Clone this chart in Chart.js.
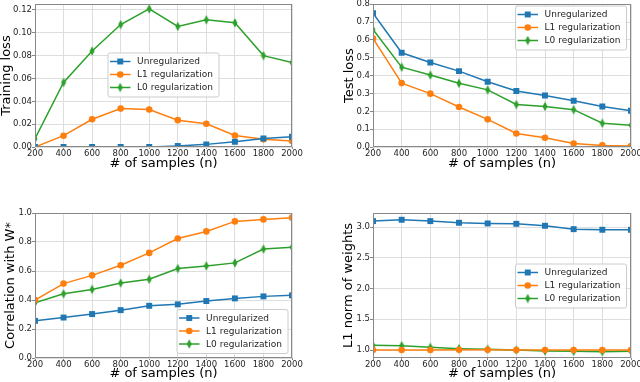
<!DOCTYPE html>
<html>
<head>
<meta charset="utf-8">
<script src="https://cdn.jsdelivr.net/npm/chart.js@4/dist/chart.umd.min.js"></script>
<style>
    html, body { margin: 0; padding: 0; background: #fff; }
    #wrap { position: relative; width: 640px; height: 382px; }
    .panel { position: absolute; width: 320px; height: 191px; }
</style>
</head>
<body>
<div id="wrap">
    <div class="panel" style="left:0;top:0"><canvas id="trainChart" width="320" height="191"></canvas></div>
    <div class="panel" style="left:320px;top:0"><canvas id="testChart" width="320" height="191"></canvas></div>
    <div class="panel" style="left:0;top:191px"><canvas id="corrChart" width="320" height="191"></canvas></div>
    <div class="panel" style="left:320px;top:191px"><canvas id="normChart" width="320" height="191"></canvas></div>
</div>
<script>
const sampleSizes = [200, 400, 600, 800, 1000, 1200, 1400, 1600, 1800, 2000];
const seriesNames = ['Unregularized', 'L1 regularization', 'L0 regularization'];

const trainUnreg = [0, 0, 0, 0, 0, 0.0009, 0.0023, 0.0046, 0.0075, 0.009];
const trainL1 = [0, 0.0099, 0.0243, 0.0336, 0.0328, 0.0235, 0.0203, 0.0101, 0.0067, 0.0052];
const trainL0 = [0.0072, 0.0565, 0.084, 0.1072, 0.1209, 0.1055, 0.1113, 0.1087, 0.080, 0.0739];

const testUnreg = [0.750, 0.528, 0.473, 0.425, 0.366, 0.314, 0.288, 0.259, 0.227, 0.203];
const testL1 = [0.608, 0.358, 0.299, 0.224, 0.155, 0.076, 0.052, 0.020, 0.009, 0.006];
const testL0 = [0.658, 0.447, 0.403, 0.357, 0.320, 0.238, 0.227, 0.209, 0.133, 0.122];

const corrUnreg = [0.256, 0.279, 0.303, 0.330, 0.360, 0.370, 0.393, 0.411, 0.425, 0.432];
const corrL1 = [0.400, 0.513, 0.570, 0.640, 0.725, 0.824, 0.873, 0.942, 0.956, 0.968];
const corrL0 = [0.381, 0.443, 0.473, 0.517, 0.543, 0.617, 0.635, 0.656, 0.751, 0.764];

const normUnreg = [3.098, 3.120, 3.098, 3.071, 3.060, 3.054, 3.022, 2.967, 2.957, 2.957];
const normL1 = [1.0, 1.0, 1.0, 1.005, 1.005, 1.0, 1.0, 1.0, 1.0, 1.0];
const normL0 = [1.076, 1.071, 1.043, 1.022, 1.011, 1.0, 0.984, 0.978, 0.973, 0.978];

const FONT = 'DejaVu Sans';
const colors = ['#1f77b4', '#ff7f0e', '#2ca02c'];

function thinDiamond(color) {
    const c = document.createElement('canvas');
    c.width = 6; c.height = 10;
    const g = c.getContext('2d');
    g.fillStyle = color;
    g.beginPath();
    g.moveTo(3, 0.3); g.lineTo(5.5, 5); g.lineTo(3, 9.7); g.lineTo(0.5, 5);
    g.closePath();
    g.fill();
    return c;
}

const markers = [
    { pointStyle: 'rect', pointRadius: 4.2 },
    { pointStyle: 'circle', pointRadius: 3.3 },
    { pointStyle: thinDiamond(colors[2]), pointRadius: 4 }
];

function drawMarker(ctx, style, r, x, y, color) {
    ctx.fillStyle = color;
    if (style instanceof HTMLCanvasElement) {
        ctx.drawImage(style, x - style.width / 2, y - style.height / 2);
    } else if (style === 'rect') {
        const s = r * Math.SQRT1_2;
        ctx.fillRect(x - s, y - s, 2 * s, 2 * s);
    } else {
        ctx.beginPath();
        ctx.arc(x, y, r, 0, Math.PI * 2);
        ctx.fill();
    }
}

const framePlugin = {
    id: 'frame',
    afterDatasetsDraw(chart) {
        const a = chart.chartArea, ctx = chart.ctx;
        ctx.save();
        ctx.strokeStyle = '#888';
        ctx.lineWidth = 1;
        ctx.strokeRect(Math.round(a.left) + 0.5, Math.round(a.top) + 0.5,
            Math.round(a.right - a.left) - 1, Math.round(a.bottom - a.top) - 1);
        ctx.restore();
    }
};

function boxLegend(x, y) {
    return {
        id: 'boxLegend',
        afterDraw(chart) {
            const ctx = chart.ctx;
            const w = 111, h = 44;
            ctx.save();
            ctx.fillStyle = 'rgba(255,255,255,0.85)';
            ctx.strokeStyle = '#cccccc';
            ctx.lineWidth = 1;
            ctx.beginPath();
            ctx.roundRect(x + 0.5, y + 0.5, w, h, 2);
            ctx.fill();
            ctx.stroke();
            chart.data.datasets.forEach((ds, i) => {
                const yy = y + 9 + i * 13;
                ctx.strokeStyle = ds.borderColor;
                ctx.lineWidth = 1.5;
                ctx.beginPath();
                ctx.moveTo(x + 2.5, yy);
                ctx.lineTo(x + 23, yy);
                ctx.stroke();
                drawMarker(ctx, ds.pointStyle, ds.pointRadius, x + 12.75, yy, ds.borderColor);
                ctx.fillStyle = '#262626';
                ctx.font = '9px "' + FONT + '"';
                ctx.textBaseline = 'middle';
                ctx.textAlign = 'left';
                ctx.fillText(ds.label, x + 29.6, yy + 0.5);
            });
            ctx.restore();
        }
    };
}

function makeDatasets(series) {
    return series.map((values, i) => ({
        label: seriesNames[i],
        data: sampleSizes.map((n, k) => ({ x: n, y: values[k] })),
        borderColor: colors[i],
        backgroundColor: colors[i],
        pointBorderColor: colors[i],
        pointBackgroundColor: colors[i],
        borderWidth: 1.5,
        pointBorderWidth: 0,
        pointStyle: markers[i].pointStyle,
        pointRadius: markers[i].pointRadius,
        tension: 0
    }));
}

function createLossChart(id, series, cfg) {
    const ctx = document.getElementById(id);
    return new Chart(ctx, {
        type: 'line',
        data: { datasets: makeDatasets(series) },
        options: {
            responsive: false,
            animation: false,
            devicePixelRatio: 1,
            layout: { padding: cfg.padding },
            plugins: {
                legend: { display: false },
                tooltip: { enabled: false }
            },
            scales: {
                x: {
                    type: 'linear',
                    min: 200,
                    max: 2000,
                    afterFit: function (s) {
                        s.height = cfg.xHeight;
                        s.paddingLeft = 0; s.paddingRight = 0;
                    },
                    ticks: {
                        stepSize: 200,
                        padding: 0,
                        maxRotation: 0,
                        autoSkip: false,
                        color: '#262626',
                        font: { family: FONT, size: 8.5 },
                        callback: function (value) { return String(value); }
                    },
                    grid: { color: '#dedede', tickLength: 2, tickColor: '#888' },
                    border: { display: false },
                    title: {
                        display: true,
                        text: '# of samples (n)',
                        color: '#000',
                        padding: 0,
                        font: { family: FONT, size: 13, lineHeight: 1 }
                    }
                },
                y: {
                    min: cfg.yMin,
                    max: cfg.yMax,
                    afterFit: function (s) {
                        s.width = cfg.yWidth;
                        s.paddingTop = 0; s.paddingBottom = 0;
                    },
                    ticks: {
                        stepSize: cfg.yStep,
                        includeBounds: false,
                        padding: 0,
                        color: '#262626',
                        font: { family: FONT, size: 8.5 },
                        callback: function (value) { return value.toFixed(cfg.yDigits); }
                    },
                    grid: { color: '#dedede', tickLength: 3, tickColor: '#888' },
                    border: { display: false },
                    title: {
                        display: true,
                        text: cfg.yTitle,
                        color: '#000',
                        padding: 0,
                        font: { family: FONT, size: 13, lineHeight: 1 }
                    }
                }
            }
        },
        plugins: [framePlugin, boxLegend(cfg.legendX, cfg.legendY)]
    });
}

createLossChart('trainChart', [trainUnreg, trainL1, trainL0], {
    padding: { left: 0, right: 28, top: 3, bottom: 20.5 },
    yWidth: 35, xHeight: 23.5,
    yMin: 0, yMax: 0.125, yStep: 0.02, yDigits: 2,
    yTitle: 'Training loss',
    legendX: 107.5, legendY: 52.5
});

createLossChart('testChart', [testUnreg, testL1, testL0], {
    padding: { left: 23.5, right: 9, top: 3, bottom: 20.5 },
    yWidth: 29.5, xHeight: 23.5,
    yMin: 0, yMax: 0.8, yStep: 0.1, yDigits: 1,
    yTitle: 'Test loss',
    legendX: 195, legendY: 5.5
});

createLossChart('corrChart', [corrUnreg, corrL1, corrL0], {
    padding: { left: 4.5, right: 28, top: 22, bottom: 1.8 },
    yWidth: 30.5, xHeight: 22.2,
    yMin: 0, yMax: 1.0, yStep: 0.2, yDigits: 1,
    yTitle: 'Correlation with W*',
    legendX: 176.5, legendY: 118
});

createLossChart('normChart', [normUnreg, normL1, normL0], {
    padding: { left: 22.5, right: 9, top: 22, bottom: 1.8 },
    yWidth: 30.5, xHeight: 22.2,
    yMin: 0.87, yMax: 3.23, yStep: 0.5, yDigits: 1,
    yTitle: 'L1 norm of weights',
    legendX: 195, legendY: 72.5
});
</script>
</body>
</html>
